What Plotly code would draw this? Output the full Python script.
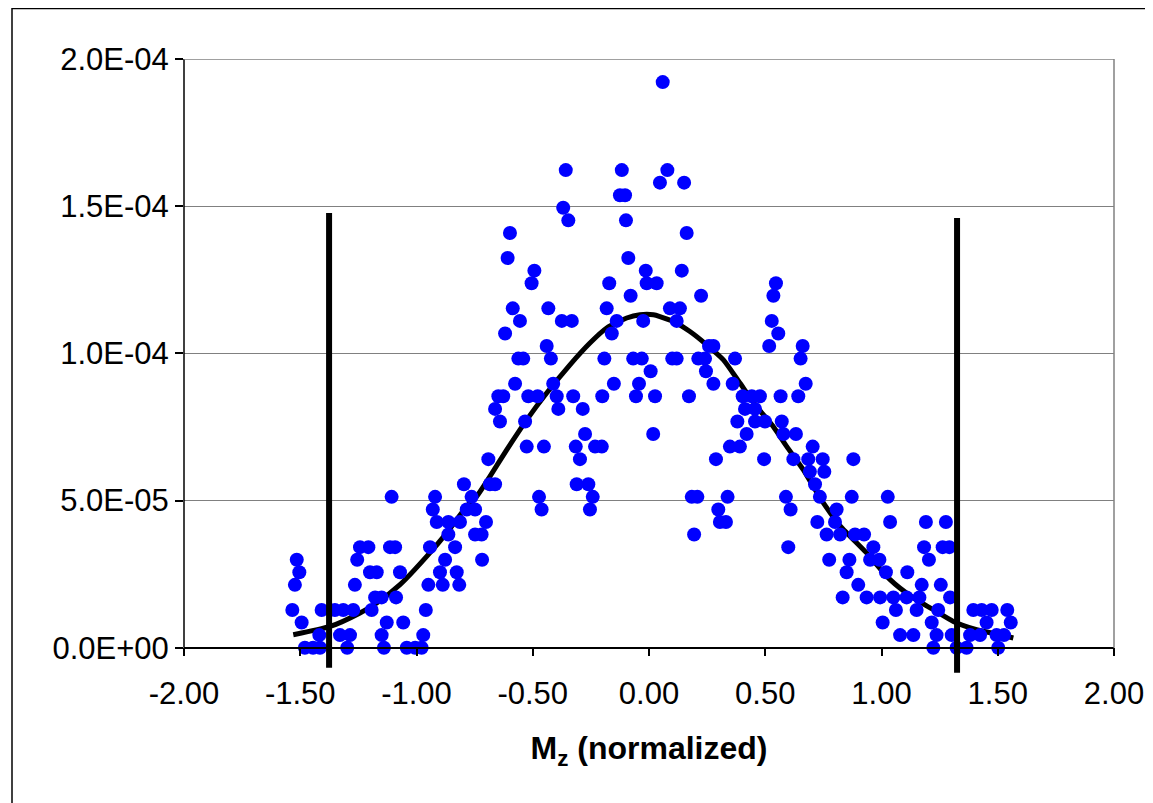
import plotly.graph_objects as go

# ---- data ----
mz = [
    -1.515, -1.504, -1.523, -1.534, -1.494, -1.480, -1.445, -1.415, -1.418, -1.329,
    -1.286, -1.408, -1.351, -1.315, -1.272, -1.298, -1.243, -1.207, -1.114, -1.092,
    -1.255, -1.200, -1.171, -1.265, -1.178, -1.150, -1.193, -1.128, -1.150, -1.140,
    -1.107, -1.071, -1.088, -1.057, -1.042, -1.006, -0.978, -0.971, -0.960, -0.949,
    -0.942, -0.899, -0.887, -0.877, -0.863, -0.834, -0.827, -0.816, -0.748, -0.718,
    -0.920, -0.930, -0.913, -0.863, -0.813, -0.796, -0.763, -0.784, -0.748, -0.701,
    -0.720, -0.369, -0.347, -0.598, -0.608, -0.493, -0.505, -0.586, -0.555, -0.619,
    -0.433, -0.375, -0.332, -0.440, -0.562, -0.541, -0.422, -0.576, -0.412, -0.648,
    -0.627, -0.519, -0.479, -0.397, -0.326, -0.662, -0.390, -0.285, -0.641, -0.533,
    -0.275, -0.526, -0.452, -0.315, -0.232, -0.203, -0.297, -0.691, -0.684, -0.662,
    -0.473, -0.311, -0.261, -0.242, -0.462, -0.254, -0.358, -0.117, -0.125, -0.103,
    -0.099, -0.089, -0.014, -0.171, -0.079, -0.010, 0.033, -0.182, -0.139, -0.025,
    -0.160, -0.192, -0.068, -0.031, 0.007, -0.151, -0.043, -0.201, -0.056, 0.026,
    0.018, 0.059, 0.079, 0.047, 0.151, 0.162, 0.141, 0.224, 0.090, 0.133,
    0.119, 0.258, 0.277, 0.100, 0.119, 0.212, 0.241, 0.370, 0.245, 0.277,
    0.360, 0.172, 0.403, 0.442, 0.477, 0.566, 0.642, 0.413, 0.456, 0.380,
    0.456, 0.499, 0.571, 0.420, 0.578, 0.632, 0.348, 0.391, 0.704, 0.288,
    0.495, 0.621, 0.685, 0.747, 0.879, 0.692, 0.754, 0.714, 0.735, 0.184,
    0.208, 0.338, 0.589, 0.872, 0.298, 0.609, 0.807, 0.305, 0.331, 0.724,
    0.800, 0.194, 0.764, 0.822, 0.886, 0.925, 0.599, 0.546, 0.535, 0.528,
    0.556, 0.517, 0.661, 0.652, 0.674, 1.027, 1.037, 1.191, 1.277, 0.965,
    1.183, 1.263, 1.292, 0.775, 0.862, 0.951, 0.991, 1.204, 0.850, 1.019,
    1.111, 0.900, 1.173, 1.255, 0.833, 0.936, 0.994, 1.051, 1.108, 1.163,
    1.295, 1.062, 1.151, 1.244, 1.395, 1.431, 1.474, 1.541, 1.005, 1.216,
    1.452, 1.556, 1.080, 1.137, 1.237, 1.302, 1.381, 1.424, 1.495, 1.527,
    1.223, 1.323, 1.366, 1.502,
]

prob = [
    2.989e-5, 2.562e-5, 2.135e-5, 1.281e-5, 8.54e-6, 0.0, 0.0, 0.0, 4.27e-6, 4.27e-6,
    4.27e-6, 1.281e-5, 1.281e-5, 1.281e-5, 1.281e-5, 0.0, 3.416e-5, 3.416e-5, 3.416e-5, 3.416e-5,
    2.989e-5, 2.562e-5, 2.562e-5, 2.135e-5, 1.708e-5, 1.708e-5, 1.281e-5, 8.54e-6, 4.27e-6, 0.0,
    5.124e-5, 2.562e-5, 1.708e-5, 8.54e-6, 0.0, 0.0, 0.0, 4.27e-6, 1.281e-5, 2.135e-5,
    3.416e-5, 2.562e-5, 2.135e-5, 2.989e-5, 3.843e-5, 3.416e-5, 2.562e-5, 2.135e-5, 3.843e-5, 2.989e-5,
    5.124e-5, 4.697e-5, 4.27e-5, 4.27e-5, 4.27e-5, 5.551e-5, 5.124e-5, 4.697e-5, 4.697e-5, 4.27e-5,
    3.843e-5, 1.4945e-4, 1.4518e-4, 1.4091e-4, 1.3237e-4, 1.281e-4, 1.2383e-4, 1.1529e-4, 1.1102e-4, 1.0675e-4,
    1.1529e-4, 1.1102e-4, 1.1102e-4, 1.0248e-4, 9.821e-5, 9.821e-5, 9.821e-5, 8.967e-5, 8.967e-5, 8.54e-5,
    8.54e-5, 8.54e-5, 8.54e-5, 8.54e-5, 8.54e-5, 8.113e-5, 8.113e-5, 8.113e-5, 7.686e-5, 7.686e-5,
    7.259e-5, 6.832e-5, 6.832e-5, 6.832e-5, 6.832e-5, 6.832e-5, 6.405e-5, 6.405e-5, 5.551e-5, 5.551e-5,
    5.124e-5, 5.551e-5, 5.551e-5, 5.124e-5, 4.697e-5, 4.697e-5, 1.6226e-4, 1.6226e-4, 1.5372e-4, 1.5372e-4,
    1.4518e-4, 1.3237e-4, 1.281e-4, 1.2383e-4, 1.1956e-4, 1.2383e-4, 1.2383e-4, 1.1529e-4, 1.1102e-4, 1.1102e-4,
    1.0675e-4, 9.821e-5, 9.821e-5, 9.821e-5, 9.394e-5, 8.967e-5, 8.967e-5, 8.54e-5, 8.54e-5, 8.54e-5,
    7.259e-5, 1.9215e-4, 1.6226e-4, 1.5799e-4, 1.5799e-4, 1.4091e-4, 1.281e-4, 1.1956e-4, 1.1529e-4, 1.1529e-4,
    1.1102e-4, 1.0248e-4, 1.0248e-4, 9.821e-5, 9.821e-5, 9.821e-5, 9.821e-5, 9.821e-5, 9.394e-5, 8.967e-5,
    8.967e-5, 8.54e-5, 8.54e-5, 8.54e-5, 8.54e-5, 8.54e-5, 8.54e-5, 8.113e-5, 8.113e-5, 7.686e-5,
    7.686e-5, 7.686e-5, 7.686e-5, 7.259e-5, 7.259e-5, 7.259e-5, 6.832e-5, 6.832e-5, 6.832e-5, 6.405e-5,
    6.405e-5, 6.405e-5, 6.405e-5, 6.405e-5, 6.405e-5, 5.978e-5, 5.978e-5, 5.551e-5, 5.124e-5, 5.124e-5,
    5.124e-5, 5.124e-5, 5.124e-5, 5.124e-5, 4.697e-5, 4.697e-5, 4.697e-5, 4.27e-5, 4.27e-5, 4.27e-5,
    4.27e-5, 3.843e-5, 3.843e-5, 3.843e-5, 3.843e-5, 3.843e-5, 3.416e-5, 1.2383e-4, 1.1956e-4, 1.1102e-4,
    1.0675e-4, 1.0248e-4, 1.0248e-4, 9.821e-5, 8.967e-5, 5.124e-5, 4.27e-5, 4.27e-5, 4.27e-5, 3.416e-5,
    3.416e-5, 3.416e-5, 3.416e-5, 2.989e-5, 2.989e-5, 2.989e-5, 2.989e-5, 2.989e-5, 2.562e-5, 2.562e-5,
    2.562e-5, 2.135e-5, 2.135e-5, 2.135e-5, 1.708e-5, 1.708e-5, 1.708e-5, 1.708e-5, 1.708e-5, 1.708e-5,
    1.708e-5, 1.281e-5, 1.281e-5, 1.281e-5, 1.281e-5, 1.281e-5, 1.281e-5, 1.281e-5, 8.54e-6, 8.54e-6,
    8.54e-6, 8.54e-6, 4.27e-6, 4.27e-6, 4.27e-6, 4.27e-6, 4.27e-6, 4.27e-6, 4.27e-6, 4.27e-6,
    0.0, 0.0, 0.0, 0.0,
]

fit_x = [-1.530, -1.372, -1.243, -1.171, -1.071, -0.956, -0.870, -0.784, -0.741, -0.684,
         -0.612, -0.526, -0.440, -0.340, -0.254, -0.182, -0.096, -0.039, 0.019, 0.047,
         0.105, 0.176, 0.248, 0.320, 0.391, 0.463, 0.535, 0.592, 0.664, 0.735,
         0.821, 0.936, 1.037, 1.137, 1.223, 1.309, 1.409, 1.510, 1.567]
fit_y = [4.4e-6, 7.2e-6, 1.18e-5, 1.52e-5, 2.14e-5, 3.10e-5, 3.90e-5, 4.80e-5, 5.14e-5, 5.82e-5,
         6.72e-5, 7.74e-5, 8.65e-5, 9.61e-5, 1.035e-4, 1.086e-4, 1.120e-4, 1.131e-4, 1.131e-4, 1.125e-4,
         1.108e-4, 1.074e-4, 1.029e-4, 9.78e-5, 8.99e-5, 8.19e-5, 7.51e-5, 6.84e-5, 6.04e-5, 5.10e-5,
         4.15e-5, 3.22e-5, 2.31e-5, 1.69e-5, 1.29e-5, 8.9e-6, 6.1e-6, 4.4e-6, 3.3e-6]

limit_left_x = [-1.376, -1.376]
limit_left_y = [-6.8e-6, 1.477e-4]
limit_right_x = [1.325, 1.325]
limit_right_y = [-8.5e-6, 1.46e-4]

x_ticks = [-2.0, -1.5, -1.0, -0.5, 0.0, 0.5, 1.0, 1.5, 2.0]
x_ticktext = ["-2.00", "-1.50", "-1.00", "-0.50", "0.00", "0.50", "1.00", "1.50", "2.00"]
y_ticks = [0.0, 5e-5, 1e-4, 1.5e-4, 2e-4]
y_ticktext = ["0.0E+00", "5.0E-05", "1.0E-04", "1.5E-04", "2.0E-04"]

Y_MIN, Y_MAX = -8.6e-6, 2e-4

FONT = "Liberation Sans, Arial, sans-serif"

fig = go.Figure()
fig.add_trace(go.Scatter(x=fit_x, y=fit_y, mode="lines",
                         line=dict(color="black", width=5, shape="spline", smoothing=0.6),
                         showlegend=False, hoverinfo="skip"))
fig.add_trace(go.Scatter(x=mz, y=prob, mode="markers",
                         marker=dict(color="#0000FF", size=14, line=dict(width=0)),
                         showlegend=False))
for lx, ly in ((limit_left_x, limit_left_y), (limit_right_x, limit_right_y)):
    fig.add_trace(go.Scatter(x=lx, y=ly, mode="lines",
                             line=dict(color="black", width=6),
                             showlegend=False, hoverinfo="skip"))

zero_pos = (0 - Y_MIN) / (Y_MAX - Y_MIN)

# page body has an 8px margin, so the figure is placed at (8, 8)
FW, FH = 1145, 795
PW, PH = 930, 614          # plot area size in px
L, T = 176, 51             # plot area offset inside the figure

fig.update_layout(
    width=FW, height=FH,
    margin=dict(l=L, r=FW - L - PW, t=T, b=FH - T - PH, autoexpand=False),
    paper_bgcolor="white", plot_bgcolor="white",
    font=dict(family=FONT, size=31, color="black"),
    xaxis=dict(range=[-2, 2], tickvals=x_ticks, ticktext=x_ticktext,
               showgrid=False, zeroline=False, automargin=False,
               showline=True, linecolor="black", linewidth=1.5,
               ticks="outside", ticklen=8, tickwidth=1.5, tickcolor="black",
               ticklabelstandoff=10,
               anchor="free", position=zero_pos,
               title=dict(text="<b>M<sub>z</sub> (normalized)</b>",
                          font=dict(family=FONT, size=32), standoff=26)),
    yaxis=dict(range=[Y_MIN, Y_MAX], tickvals=y_ticks, ticktext=y_ticktext,
               showgrid=True, gridcolor="#808080", gridwidth=1,
               zeroline=False, showline=False, automargin=False,
               ticks="outside", ticklen=8, tickwidth=1.5, tickcolor="black"),
    shapes=[
        dict(type="line", xref="paper", yref="y", x0=0, x1=0, y0=0, y1=Y_MAX,
             line=dict(color="black", width=1.5), layer="above"),
        dict(type="line", xref="paper", yref="y", x0=0, x1=1, y0=Y_MAX, y1=Y_MAX,
             line=dict(color="#808080", width=1.5), layer="above"),
        dict(type="line", xref="paper", yref="y", x0=1, x1=1, y0=0, y1=Y_MAX,
             line=dict(color="#808080", width=1.5), layer="above"),
        # chart-area frame (only its left and top edges fall inside the picture)
        dict(type="line", xref="paper", yref="paper",
             x0=(4 - L) / PW, x1=(4 - L) / PW, y0=-(FH - T - PH) / PH, y1=1 + T / PH,
             line=dict(color="black", width=1.5), layer="below"),
        dict(type="line", xref="paper", yref="paper",
             x0=(4 - L) / PW, x1=(FW - L) / PW, y0=1 + (T - 0.5) / PH, y1=1 + (T - 0.5) / PH,
             line=dict(color="black", width=1.5), layer="below"),
    ],
)

fig.write_html(
    "out.html",
    post_script="document.documentElement.style.overflow='hidden';"
                "document.body.style.overflow='hidden';",
)
